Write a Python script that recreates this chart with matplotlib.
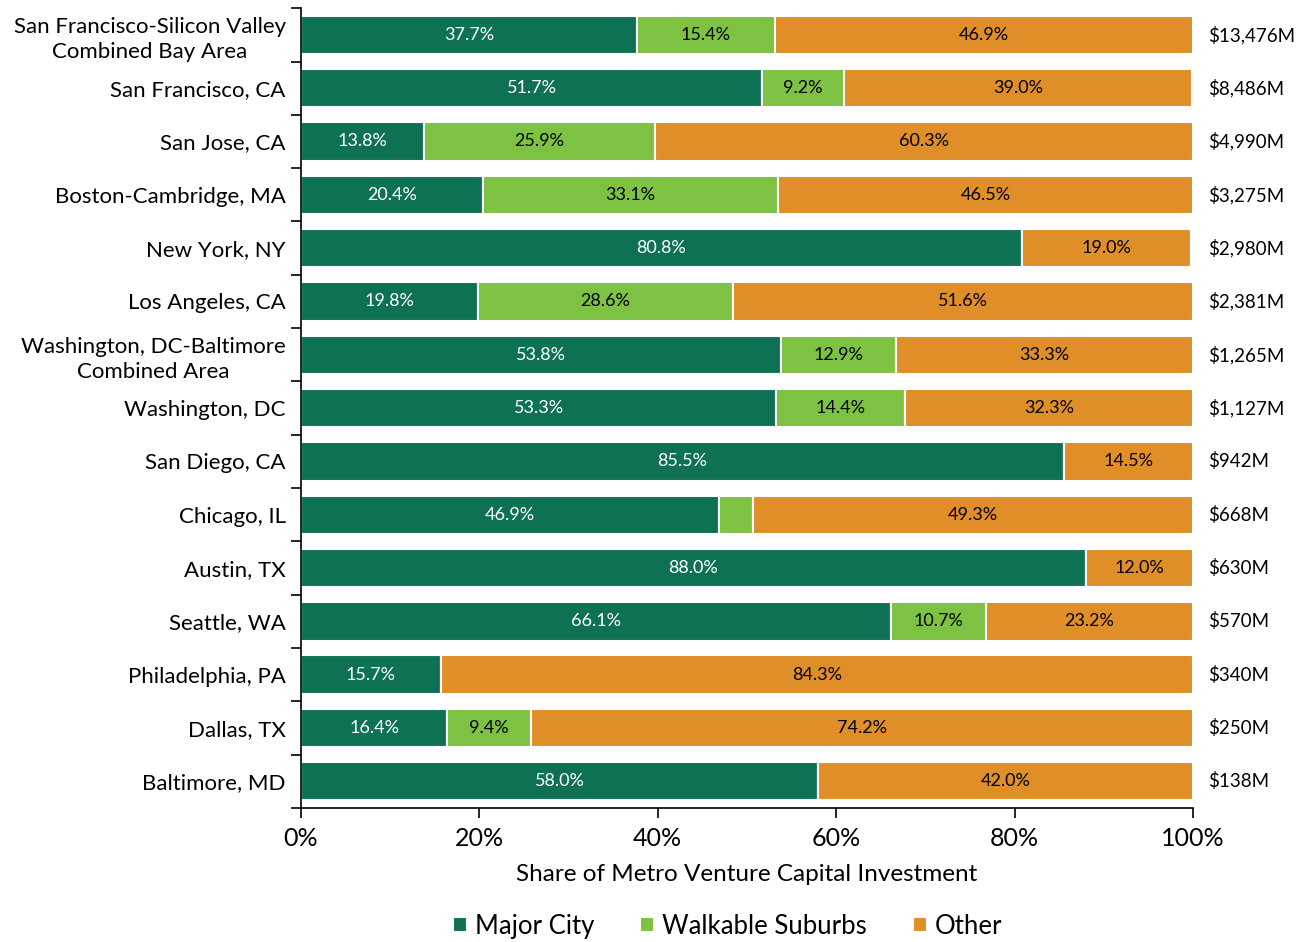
import numpy as np
import matplotlib
matplotlib.use("Agg")
from matplotlib import pyplot as plt
from matplotlib.ticker import FixedLocator, PercentFormatter

plt.rcParams["font.family"] = ["Lato", "DejaVu Sans"]

metros = ["San Francisco-Silicon Valley\nCombined Bay Area", "San Francisco, CA", "San Jose, CA",
          "Boston-Cambridge, MA", "New York, NY", "Los Angeles, CA",
          "Washington, DC-Baltimore\nCombined Area", "Washington, DC", "San Diego, CA",
          "Chicago, IL", "Austin, TX", "Seattle, WA", "Philadelphia, PA", "Dallas, TX", "Baltimore, MD"]
major_city = [37.7, 51.7, 13.8, 20.4, 80.8, 19.8, 53.8, 53.3, 85.5, 46.9, 88.0, 66.1, 15.7, 16.4, 58.0]
walkable = [15.4, 9.2, 25.9, 33.1, 0.0, 28.6, 12.9, 14.4, 0.0, 3.8, 0.0, 10.7, 0.0, 9.4, 0.0]
other = [46.9, 39.0, 60.3, 46.5, 19.0, 51.6, 33.3, 32.3, 14.5, 49.3, 12.0, 23.2, 84.3, 74.2, 42.0]
totals = ["$13,476M", "$8,486M", "$4,990M", "$3,275M", "$2,980M", "$2,381M", "$1,265M", "$1,127M",
          "$942M", "$668M", "$630M", "$570M", "$340M", "$250M", "$138M"]

c_major = "#0e7153"
c_walk = "#7dc242"
c_other = "#e08e27"

fig = plt.figure(figsize=(13.04, 9.42), dpi=100)
ax = fig.add_axes([0.2308, 0.1423, 0.684, 0.849])

y = np.arange(len(metros))
mc = np.array(major_city)
wk = np.array(walkable)
ot = np.array(other)
h = 0.72

b1 = ax.barh(y, mc, height=h, color=c_major, edgecolor="white", linewidth=1.5, label="Major City")
b2 = ax.barh(y, wk, left=mc, height=h, color=c_walk, edgecolor="white", linewidth=1.5, label="Walkable Suburbs")
b3 = ax.barh(y, ot, left=mc + wk, height=h, color=c_other, edgecolor="white", linewidth=1.5, label="Other")

# labels inside the bars, small slices get none
for i in range(len(metros)):
    ax.text(mc[i] / 2, y[i], f"{mc[i]:.1f}%", ha="center", va="center", color="white", fontsize=13)
    if wk[i] >= 5:
        ax.text(mc[i] + wk[i] / 2, y[i], f"{wk[i]:.1f}%", ha="center", va="center", color="black", fontsize=13)
    ax.text(mc[i] + wk[i] + ot[i] / 2, y[i], f"{ot[i]:.1f}%", ha="center", va="center", color="black", fontsize=13)
    ax.text(101.7, y[i], totals[i], ha="left", va="center", color="black", fontsize=13.5, clip_on=False)

ax.set_xlim(0, 100)
ax.set_ylim(len(metros) - 0.5, -0.5)
ax.set_yticks(y)
ax.set_yticklabels(metros, fontsize=16, linespacing=1.35)
for lab in ax.get_yticklabels():
    lab.set_multialignment("center")
ax.tick_params(axis="y", which="major", length=0, pad=11)
ax.yaxis.set_minor_locator(FixedLocator(np.arange(-0.5, len(metros), 1)))
ax.tick_params(axis="y", which="minor", length=7, width=1.2, direction="out")

ax.set_xticks([0, 20, 40, 60, 80, 100])
ax.xaxis.set_major_formatter(PercentFormatter(decimals=0))
ax.tick_params(axis="x", labelsize=18, length=7, width=1.2, direction="out", pad=7)
ax.set_xlabel("Share of Metro Venture Capital Investment", fontsize=17.5, labelpad=10)

for s in ["top", "right"]:
    ax.spines[s].set_visible(False)
ax.spines["left"].set_linewidth(1.2)
ax.spines["bottom"].set_linewidth(1.2)

fig.legend(handles=[b1, b2, b3], loc="lower center", bbox_to_anchor=(0.558, -0.021), ncol=3,
           frameon=False, fontsize=18.5, handlelength=0.55, handleheight=0.55, handletextpad=0.3,
           columnspacing=1.8)

fig.savefig("out.png", dpi=100)
